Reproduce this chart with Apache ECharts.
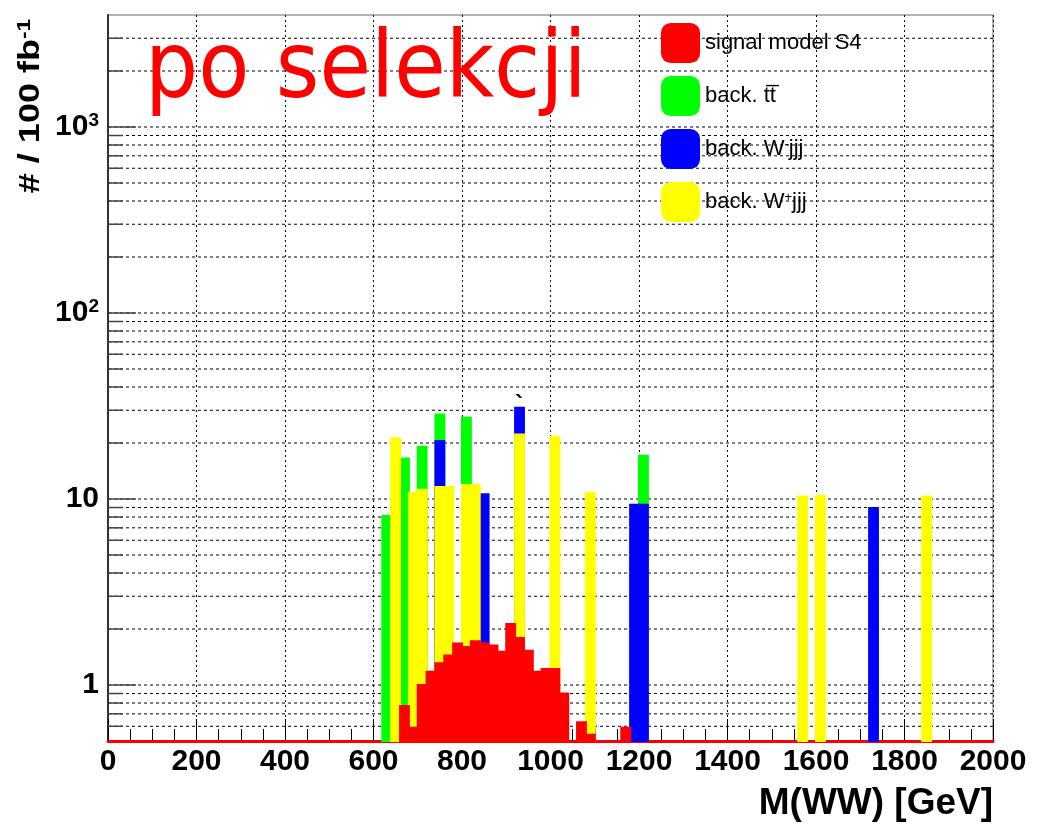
<!DOCTYPE html>
<html><head><meta charset="utf-8">
<script src="https://cdn.jsdelivr.net/npm/echarts@6/dist/echarts.min.js"></script>
<style>html,body{margin:0;padding:0;background:#fff}#c{width:1037px;height:826px}</style>
</head><body><div id="c"></div>
<script>
// ---- data (bin lower edges in GeV, bin width 20 GeV; values = events / 100 fb^-1) ----
const binWidth = 20;
const xMin = 0, xMax = 2000, xStep = 200;
const yMin = 0.5, yMax = 4000;

const signalBins   = [660, 680, 700, 720, 740, 760, 780, 800, 820, 840, 860, 880, 900, 920, 940, 960, 980, 1000, 1020, 1060, 1080, 1160];
const signalValues = [0.77, 0.59, 1.0, 1.18, 1.31, 1.44, 1.67, 1.60, 1.72, 1.67, 1.63, 1.51, 2.13, 1.79, 1.53, 1.18, 1.22, 1.22, 0.90, 0.63, 0.54, 0.59];

const ttBins   = [620, 660, 700, 740, 800, 1200];
const ttValues = [8.1, 16.5, 19.1, 28.5, 27.3, 17.1];

const wmBins   = [740, 840, 920, 1180, 1200, 1720];
const wmValues = [20.5, 10.6, 30.9, 9.3, 9.3, 8.95];

const wpBins   = [640, 680, 700, 740, 760, 800, 820, 920, 1000, 1080, 1560, 1600, 1840];
const wpValues = [21.2, 10.8, 11.2, 11.6, 11.6, 11.9, 11.9, 22.2, 21.6, 10.8, 10.3, 10.4, 10.3];

const seriesNames = ['signal', 'ttbar', 'wminus', 'wplus'];
const legendLabels = {
  signal: '{t|signal model S4}',
  ttbar: '{t|back. tt\u0305}',
  wminus: '{t|back. W}{s|-}{t|jjj}',
  wplus: '{t|back. W}{s|+}{t|jjj}'
};
const yGridValues = [0.6, 0.7, 0.8, 0.9, 1, 2, 3, 4, 5, 6, 7, 8, 9, 10, 20, 30, 40, 50, 60, 70, 80, 90,
                     100, 200, 300, 400, 500, 600, 700, 800, 900, 1000, 2000, 3000];
const yTickLabels = {1: '{b|1}', 10: '{b|10}', 100: '{b|10}{s|2}', 1000: '{b|10}{s|3}'};
const titleText = 'po selekcji';
const xTitle = 'M(WW) [GeV]';
const yTitle = '{m|# / 100 fb}{s|-1}';

// ---- chart ----
const colors = {signal: '#ff0000', ttbar: '#00ff00', wminus: '#0000ff', wplus: '#ffff00'};

function histRender(color) {
  return function (params, api) {
    const x0 = api.value(0), v = api.value(1);
    const a = api.coord([x0, v]);
    const b = api.coord([x0 + binWidth, yMin]);
    return {
      type: 'rect',
      shape: {x: a[0], y: a[1], width: b[0] - a[0], height: b[1] - a[1]},
      style: {fill: color, stroke: color, lineWidth: 2}
    };
  };
}
function pairs(bins, vals) { return bins.map((b, i) => [b, vals[i]]); }

const chart = echarts.init(document.getElementById('c'), null, {renderer: 'canvas'});
const option = {
  animation: false,
  backgroundColor: '#fff',
  grid: {left: 108, right: 44, top: 15, bottom: 85, show: true, borderColor: '#666', borderWidth: 1,
         containLabel: false, outerBoundsMode: 'none'},
  legend: {
    orient: 'vertical', left: 661, top: 23, padding: 0, itemWidth: 39, itemHeight: 40, itemGap: 13,
    icon: 'roundRect', selectedMode: false,
    data: seriesNames,
    formatter: n => legendLabels[n],
    textStyle: {
      color: '#000', fontFamily: 'Liberation Sans', fontSize: 22,
      rich: {
        t: {fontSize: 22, fontFamily: 'Liberation Sans', color: '#000'},
        s: {fontSize: 13, fontFamily: 'Liberation Sans', color: '#000', verticalAlign: 'top', padding: [0, 0, 10, 0]}
      }
    }
  },
  xAxis: {
    type: 'value', min: xMin, max: xMax, interval: xStep,
    axisLine: {show: true, onZero: false, lineStyle: {color: '#ff0000', width: 3}},
    axisTick: {show: true, inside: true, length: 22, lineStyle: {color: '#000', width: 1}},
    minorTick: {show: true, splitNumber: 4, length: 12, lineStyle: {color: '#000', width: 1}},
    splitLine: {show: true, lineStyle: {color: '#000', width: 1, type: [2, 3]}},
    axisLabel: {margin: 6, color: '#000', fontFamily: 'Liberation Sans', fontWeight: 'bold', fontSize: 30,
                formatter: v => String(Math.round(v))}
  },
  yAxis: {
    type: 'log', logBase: 10, min: yMin, max: yMax,
    axisLine: {show: true, lineStyle: {color: '#333', width: 2}},
    axisTick: {show: false},
    splitLine: {show: false},
    axisLabel: {
      margin: 9, showMinLabel: false, showMaxLabel: false, color: '#000',
      formatter: v => { const k = Math.round(v); return yTickLabels[k] || ''; },
      rich: {
        b: {fontSize: 30, fontWeight: 'bold', fontFamily: 'Liberation Sans', color: '#000'},
        s: {fontSize: 19, fontWeight: 'bold', fontFamily: 'Liberation Sans', color: '#000', verticalAlign: 'top', padding: [0, 0, 12, 0]}
      }
    }
  },
  graphic: [
    {type: 'text', left: 145, top: 26, z: 100,
     style: {text: titleText, fill: '#ff0000', font: '93px "DejaVu Sans Condensed", "DejaVu Sans", sans-serif'}},
    {type: 'text', x: 993, y: 804, z: 100,
     style: {text: xTitle, fill: '#000', font: 'bold 37px "Liberation Sans", Arial, sans-serif', align: 'right', verticalAlign: 'middle'}},
    {type: 'text', x: 31, y: 106, rotation: Math.PI / 2, scaleX: 1.2, z: 100,
     style: {text: yTitle, align: 'center', verticalAlign: 'middle',
       rich: {
         m: {fontSize: 30, fontWeight: 'bold', fontFamily: 'Liberation Sans', fill: '#000'},
         s: {fontSize: 19, fontWeight: 'bold', fontFamily: 'Liberation Sans', fill: '#000', verticalAlign: 'top', padding: [0, 0, 12, 0]}
       }}},
    {type: 'text', x: 519, y: 393, z: 100,
     style: {text: '`', fill: '#000', font: 'bold 24px "Liberation Sans", sans-serif', align: 'center', verticalAlign: 'top'}}
  ],
  series: [
    {name: 'grid', type: 'custom', silent: true, z: 1,
     data: yGridValues.map(v => [xMin, v]),
     encode: {x: 0, y: 1},
     renderItem: function (params, api) {
       const v = api.value(1);
       const a = api.coord([xMin, v]);
       const b = api.coord([xMax, v]);
       const lg = Math.log10(v);
       const major = Math.abs(lg - Math.round(lg)) < 1e-9;
       return {type: 'group', children: [
         {type: 'line', shape: {x1: a[0], y1: a[1], x2: b[0], y2: b[1]}, style: {stroke: '#000', lineWidth: 1, lineDash: [3, 3]}},
         {type: 'line', shape: {x1: a[0], y1: a[1], x2: a[0] + (major ? 28 : 15), y2: a[1]}, style: {stroke: '#444', lineWidth: 1.5}}
       ]};
     }},
    {name: 'ttbar', type: 'custom', z: 2, itemStyle: {color: colors.ttbar}, data: pairs(ttBins, ttValues), encode: {x: 0, y: 1}, renderItem: histRender(colors.ttbar)},
    {name: 'wminus', type: 'custom', z: 3, itemStyle: {color: colors.wminus}, data: pairs(wmBins, wmValues), encode: {x: 0, y: 1}, renderItem: histRender(colors.wminus)},
    {name: 'wplus', type: 'custom', z: 4, itemStyle: {color: colors.wplus}, data: pairs(wpBins, wpValues), encode: {x: 0, y: 1}, renderItem: histRender(colors.wplus)},
    {name: 'signal', type: 'custom', z: 5, itemStyle: {color: colors.signal}, data: pairs(signalBins, signalValues), encode: {x: 0, y: 1}, renderItem: histRender(colors.signal)}
  ]
};
chart.setOption(option);
</script>
</body></html>
